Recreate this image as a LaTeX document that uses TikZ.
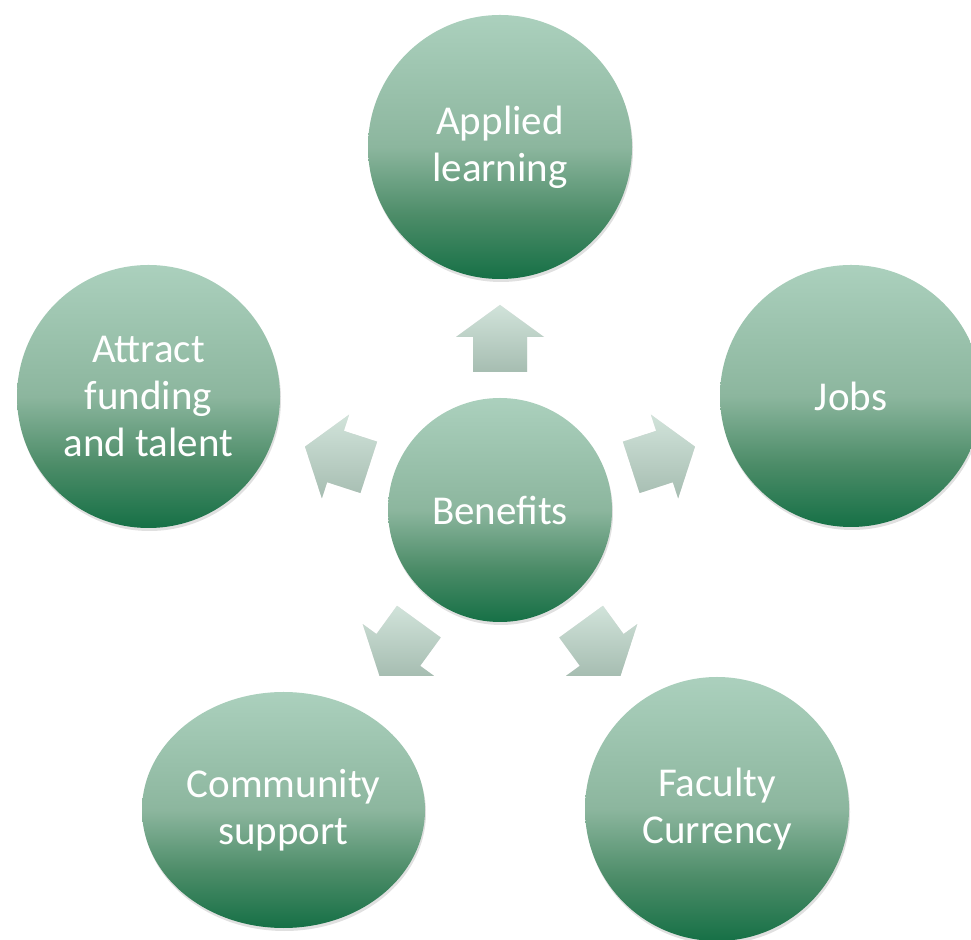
\documentclass[tikz,border=0pt]{standalone}
\usepackage{fontspec}
\setmainfont{Carlito}
\usetikzlibrary{calc,shapes.geometric,shadows}
\definecolor{ctop}{RGB}{171,208,189}
\definecolor{cmid}{RGB}{140,182,158}
\definecolor{clow}{RGB}{76,140,104}
\definecolor{cbot}{RGB}{22,112,70}
\definecolor{atop}{RGB}{209,227,218}
\definecolor{abot}{RGB}{166,189,177}
\pgfdeclareverticalshading{circshade}{100bp}{color(0bp)=(cbot); color(25bp)=(cbot); color(37bp)=(clow); color(50bp)=(cmid); color(75bp)=(ctop); color(100bp)=(ctop)}
\pgfdeclareverticalshading{arrshade}{100bp}{color(0bp)=(abot); color(25bp)=(abot); color(75bp)=(atop); color(100bp)=(atop)}
\tikzset{
  bubble/.style={circle, inner sep=0pt, shading=circshade, align=center, text=white,
    font=\fontsize{41}{47}\selectfont,
    drop shadow={shadow xshift=1pt, shadow yshift=-3pt, opacity=.12, fill=black}},
  blockarrow/.style={shading=arrshade},
  arrowshadow/.style={fill=black, opacity=.13},
}
\begin{document}
\begin{tikzpicture}[x=1pt,y=1pt]
\useasboundingbox (0,0) rectangle (971,939);
\coordinate (C) at (500,429);
% block arrows
\foreach \a in {90,18,162,234,306} {
  \fill[arrowshadow, shift={(1.5,-4)}]
    ($(C)+(\a:205)$) -- ($(C)+(\a:173)+({\a+90}:44)$) -- ($(C)+(\a:173)+({\a+90}:27)$)
    -- ($(C)+(\a:138)+({\a+90}:27)$) -- ($(C)+(\a:138)+({\a-90}:27)$)
    -- ($(C)+(\a:173)+({\a-90}:27)$) -- ($(C)+(\a:173)+({\a-90}:44)$) -- cycle;
  \shade[blockarrow]
    ($(C)+(\a:205)$) -- ($(C)+(\a:173)+({\a+90}:44)$) -- ($(C)+(\a:173)+({\a+90}:27)$)
    -- ($(C)+(\a:138)+({\a+90}:27)$) -- ($(C)+(\a:138)+({\a-90}:27)$)
    -- ($(C)+(\a:173)+({\a-90}:27)$) -- ($(C)+(\a:173)+({\a-90}:44)$) -- cycle;
}
\node[bubble, minimum size=224pt] (ben) at (C) {Benefits};
\node[bubble, minimum size=264pt] (app) at (500,792) {Applied\\learning};
\node[bubble, minimum size=262pt] (jobs) at (851,543) {Jobs};
\node[bubble, minimum size=263pt] (attr) at (148.5,542.5) {Attract\\funding\\and talent};
\node[bubble, ellipse, minimum width=283pt, minimum height=236pt] (comm) at (283.5,129) {Community\\support};
\node[bubble, minimum size=264pt] (fac) at (717,130) {Faculty\\Currency};
\end{tikzpicture}
\end{document}
